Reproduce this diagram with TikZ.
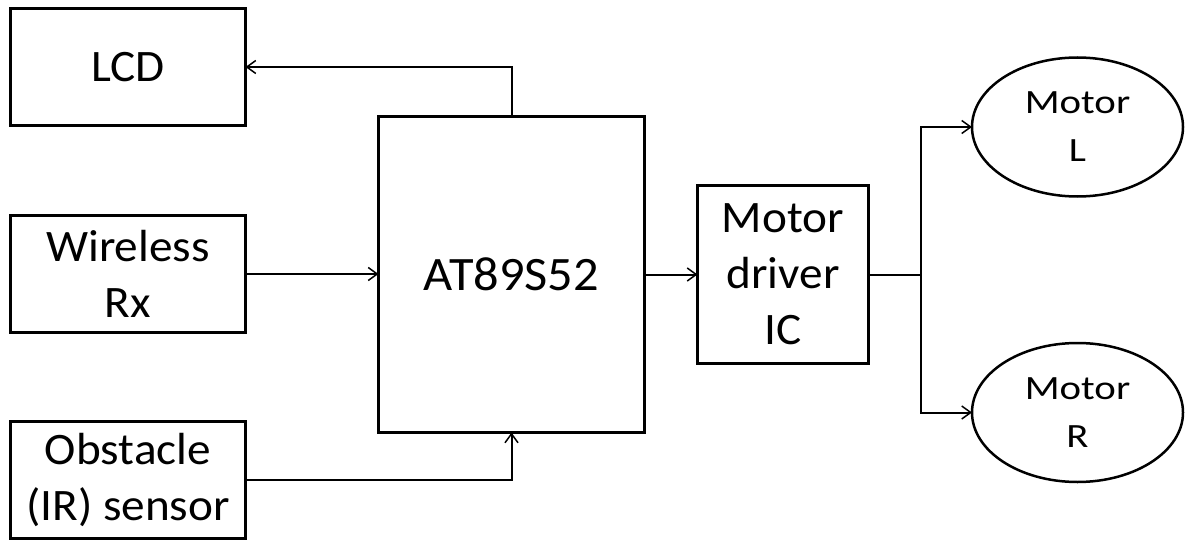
\documentclass[tikz,border=0pt]{standalone}
\usepackage{fontspec}
\setmainfont{Carlito}[FakeStretch=1.05]
\newfontfamily\motfont{Carlito}[FakeStretch=1.2]
\usetikzlibrary{positioning,arrows.meta,shapes}

\begin{document}
\begin{tikzpicture}[x=1pt,y=-1pt,->,>={Straight Barb[length=9pt,width=13pt,line width=1.5pt]},
  line width=2pt,
  blk/.style={rectangle,draw,line width=3pt,outer sep=0pt,align=center,
    font=\fontsize{45}{56}\selectfont},
  mot/.style={ellipse,draw,line width=2.5pt,outer sep=0pt,align=center,
    minimum width=211pt,minimum height=139pt,font=\motfont\fontsize{34}{48}\selectfont}]
  \useasboundingbox (0,0) rectangle (1185,540);
  \node[blk,minimum width=235pt,minimum height=117pt] (lcd) at (128,67) {LCD};
  \node[blk,minimum width=235pt,minimum height=117pt] (rx) at (128,274) {Wireless\\Rx};
  \node[blk,minimum width=235pt,minimum height=117pt] (obs) at (128,480) {Obstacle\\(IR) sensor};
  \node[blk,minimum width=266pt,minimum height=316pt,font=\fontsize{48}{56}\selectfont] (mcu) at (511.5,274.5) {AT89S52};
  \node[blk,minimum width=171pt,minimum height=177pt] (drv) at (783,274.5) {Motor\\driver\\IC};
  \node[mot] (ml) at (1077.5,127) {Motor\\L};
  \node[mot] (mr) at (1077.5,412.5) {Motor\\R};
  \coordinate (br) at (921,274.5);

  \draw (mcu.north) |- (lcd.east);
  \draw (rx.east) -- (mcu.west |- rx.east);
  \draw (obs.east) -| (mcu.south);
  \draw (mcu.east) -- (drv.west);
  \draw[-] (drv.east) -- (br);
  \draw (br) |- (ml.west);
  \draw (br) |- (mr.west);
\end{tikzpicture}
\end{document}
